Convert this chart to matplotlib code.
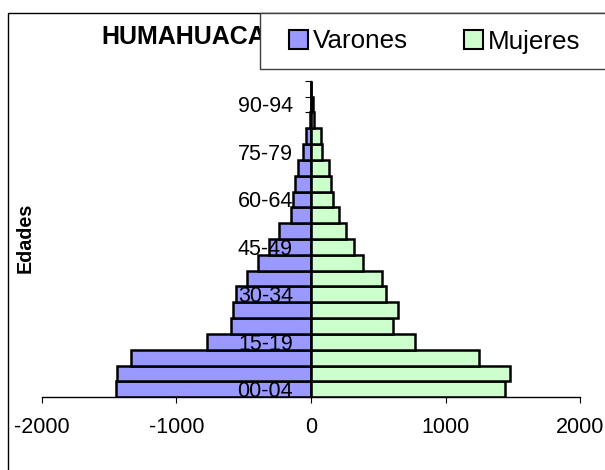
import matplotlib
matplotlib.use('Agg')
import matplotlib.pyplot as plt
from matplotlib.patches import Patch, Rectangle
import numpy as np

plt.rcParams['font.family'] = ['Liberation Sans', 'DejaVu Sans']

# datos (poblacion por grupo de edad)
edades = ['00-04', '05-09', '10-14', '15-19', '20-24', '25-29', '30-34',
          '35-39', '40-44', '45-49', '50-54', '55-59', '60-64', '65-69',
          '70-74', '75-79', '80-84', '85-89', '90-94', '95-99']
varones = [1447, 1438, 1338, 770, 593, 576, 558, 478, 395, 312,
           240, 151, 134, 120, 94, 57, 34, 6, 3, 0]
mujeres = [1438, 1481, 1246, 770, 610, 644, 558, 524, 386, 323,
           257, 206, 160, 146, 137, 80, 77, 25, 18, 0]
xticks = [-2000, -1000, 0, 1000, 2000]

W, H = 605, 470


def fx(px):
    return px / W


def fy(py):
    return 1 - py / H


fig = plt.figure(figsize=(6.05, 4.7), dpi=100)
ax = fig.add_axes([fx(41.7), fy(397.3), fx(580.3 - 41.7), (397.3 - 80.7) / H])

y = np.arange(len(edades))
ax.barh(y, [-v for v in varones], height=1.0, color='#9999FF',
        edgecolor='black', linewidth=1.8, label='Varones')
ax.barh(y, mujeres, height=1.0, color='#CCFFCC',
        edgecolor='black', linewidth=1.8, label='Mujeres')

ax.set_xlim(-2000, 2000)
ax.set_ylim(-0.5, len(edades) - 0.5)

for s in ['top', 'right']:
    ax.spines[s].set_visible(False)
ax.spines['left'].set_position(('data', 0))
ax.spines['left'].set_linewidth(1.0)
ax.spines['bottom'].set_linewidth(1.0)

ax.set_xticks(xticks)
ax.set_xticklabels([str(t) for t in xticks])
ax.tick_params(axis='x', direction='out', length=4.3, width=0.8,
               labelsize=15.5, pad=10)

ax.set_yticks(y[::3])
ax.set_yticklabels(edades[::3])
ax.set_yticks(np.arange(-0.5, len(edades), 1), minor=True)
ax.tick_params(axis='y', which='major', length=0, labelsize=15.5, pad=13)
ax.tick_params(axis='y', which='minor', direction='out', length=4.3, width=0.8)

# marco del area del grafico (sale fuera de la imagen)
fig.patches.append(Rectangle((fx(8.3), -0.2), 1.2, fy(13.3) + 0.2,
                             transform=fig.transFigure, fill=False,
                             edgecolor='black', linewidth=1.0, zorder=0))

fig.text(fx(101), fy(44.5), 'HUMAHUACA', fontsize=18, fontweight='bold',
         ha='left', va='baseline', zorder=1)

# caja de la leyenda, tapa el final del titulo
fig.patches.append(Rectangle((fx(259.6), fy(69)), 1.0, (69 - 13.3) / H,
                             transform=fig.transFigure, facecolor='white',
                             edgecolor='#404040', linewidth=1.0, zorder=2))

handles = [Patch(facecolor='#9999FF', edgecolor='black', linewidth=1.5),
           Patch(facecolor='#CCFFCC', edgecolor='black', linewidth=1.5)]
leg = fig.legend(handles, ['Varones', 'Mujeres'], ncol=2, frameon=False,
                 loc='center left', bbox_to_anchor=(fx(288.6), fy(41.5)),
                 fontsize=18.7, handlelength=0.73, handleheight=0.73,
                 handletextpad=0.2, columnspacing=2.15, borderpad=0,
                 borderaxespad=0)
leg.set_zorder(3)

fig.text(fx(25.5), fy(238), 'Edades', rotation=90, fontsize=14.2,
         fontweight='bold', ha='center', va='center')

plt.savefig('out.png', dpi=100)
plt.close()
